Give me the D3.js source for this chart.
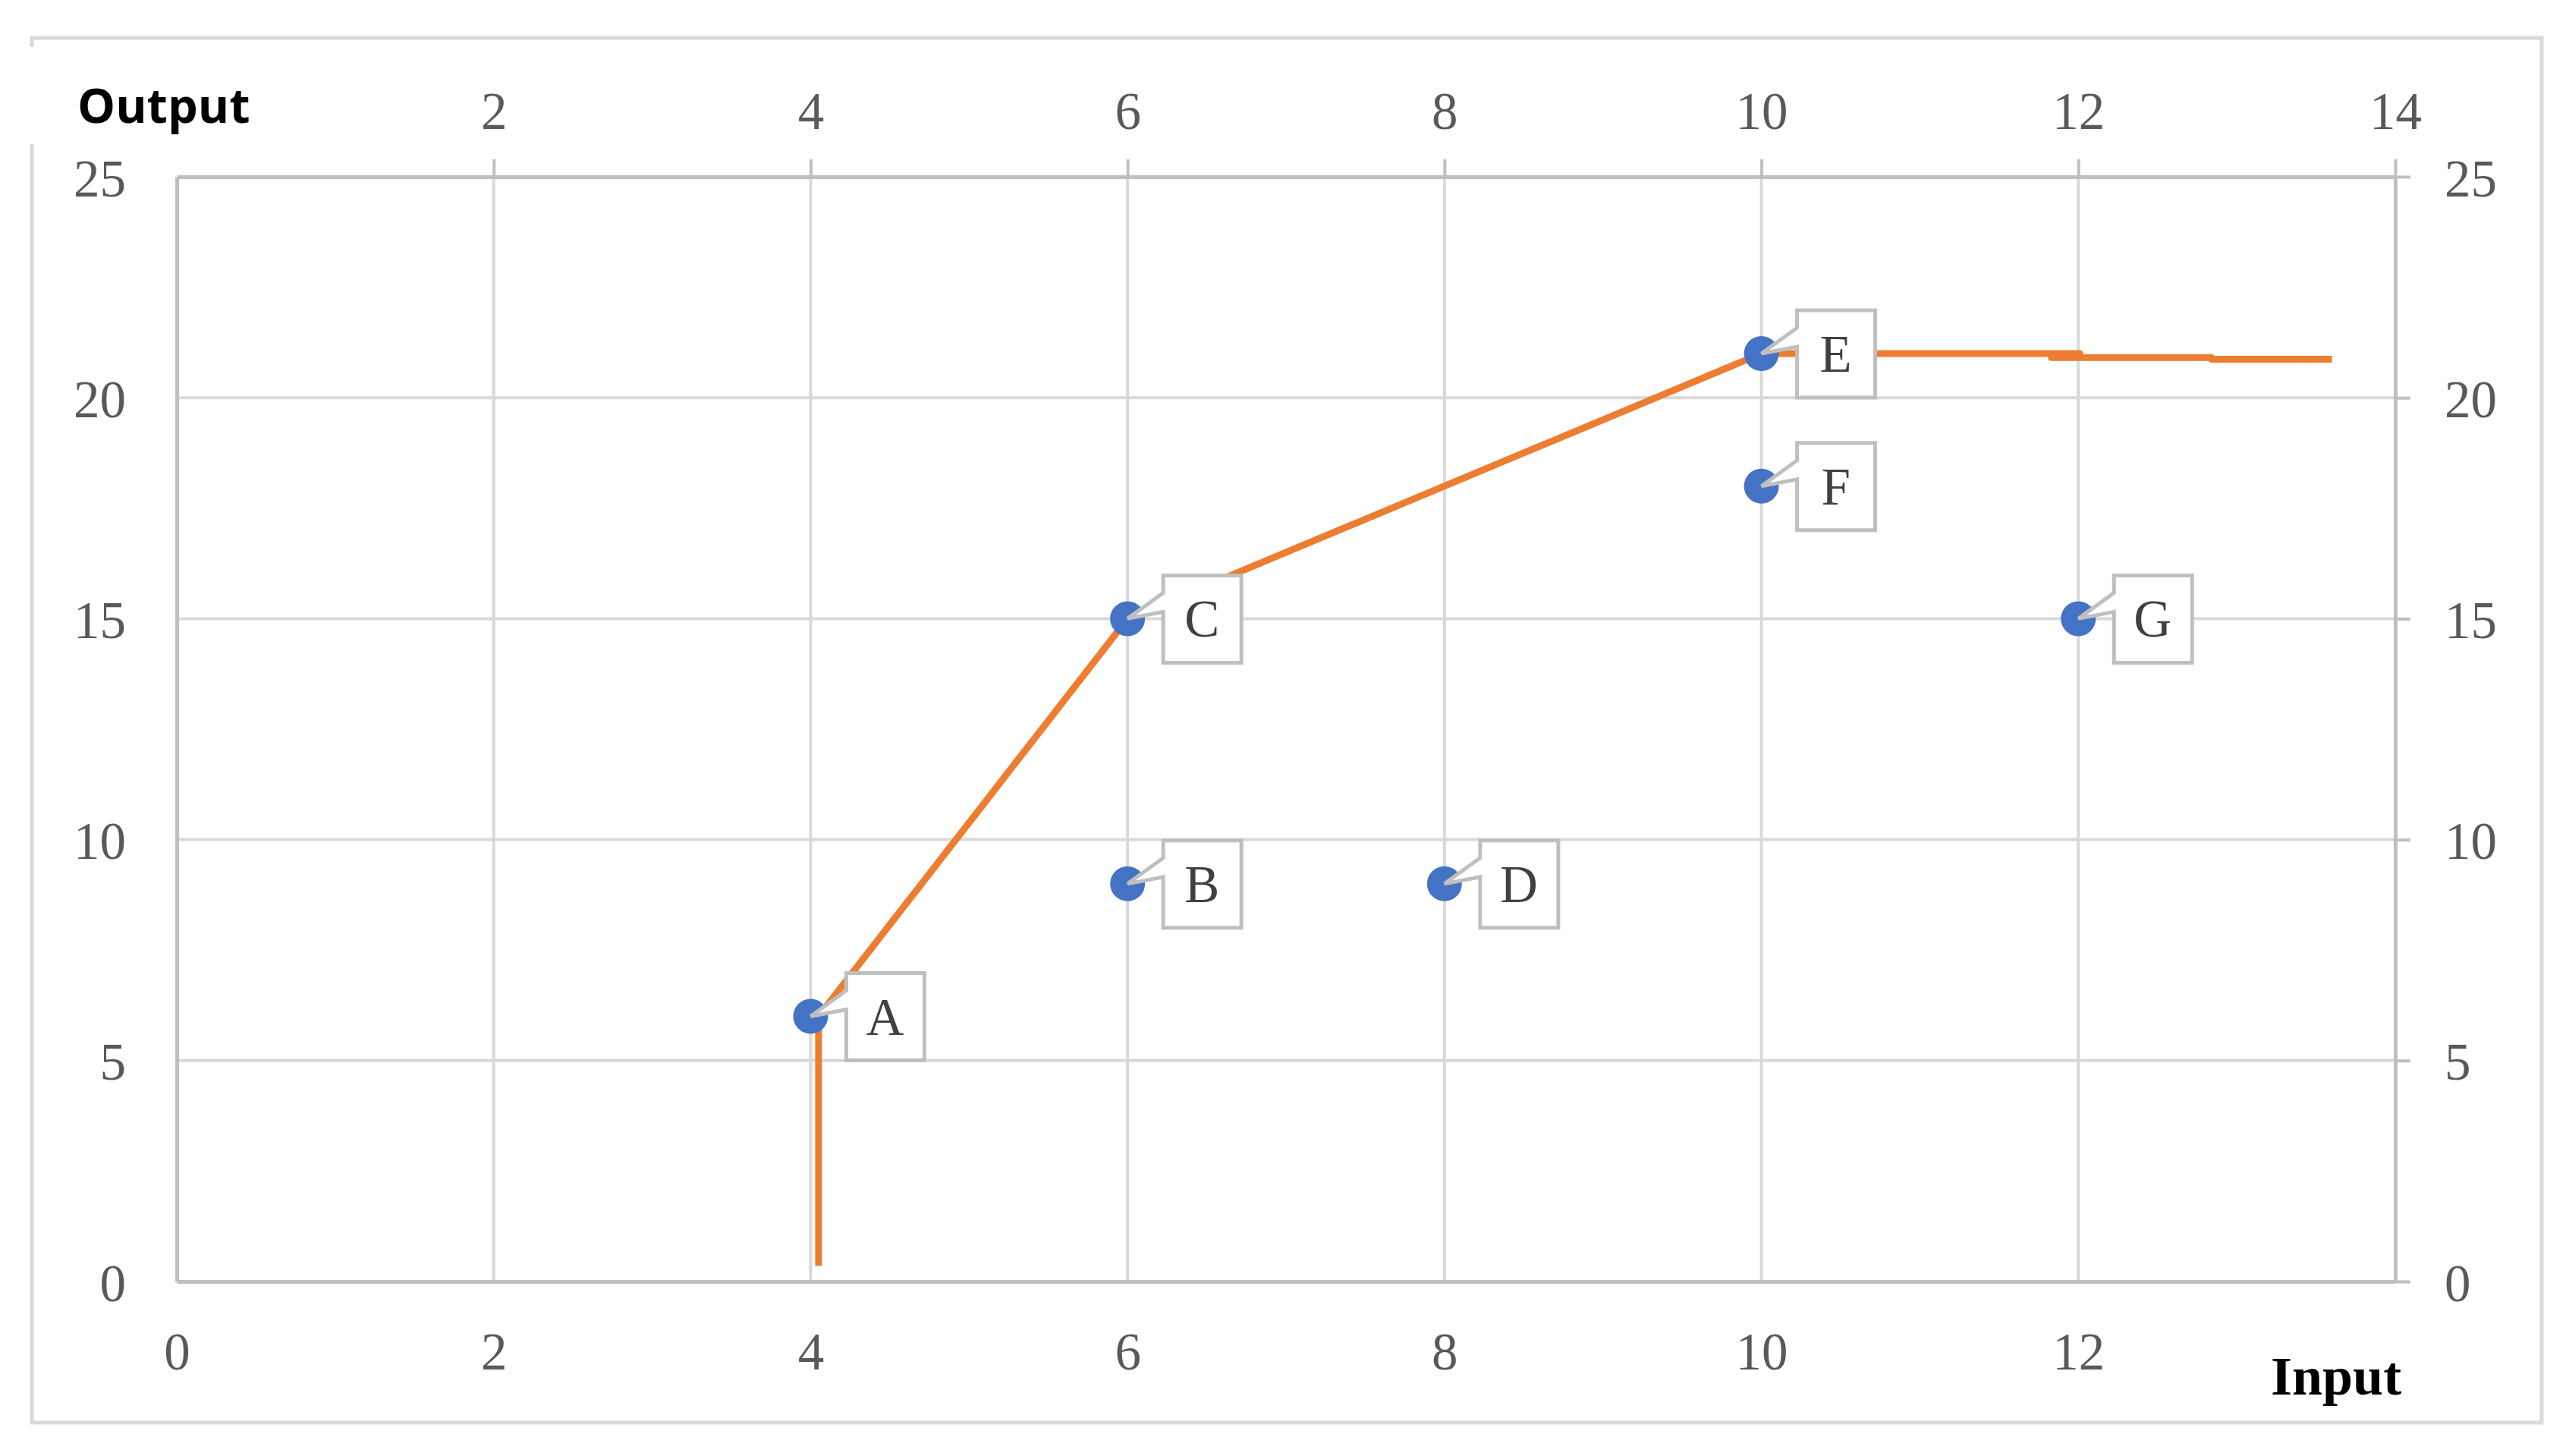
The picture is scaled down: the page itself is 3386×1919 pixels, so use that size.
<!DOCTYPE html>
<html>
<head>
<meta charset="utf-8">
<script src="https://cdn.jsdelivr.net/npm/d3@7"></script>
<style>
    body { margin: 0; background: #fff; }
    svg { display: block; }
</style>
</head>
<body>
<svg width="3386" height="1919"></svg>
<script>
// Points (scatter series with data labels)
var pointNames = ['A', 'B', 'C', 'D', 'E', 'F', 'G'];
var pointX = [4, 6, 6, 8, 10, 10, 12];
var pointY = [6, 9, 15, 9, 21, 18, 15];

// Frontier line (orange series)
var lineX = [4.05, 4.05, 6, 10, 12.01, 11.83, 12.84, 12.84, 13.6];
var lineY = [0.35, 6, 15, 21, 21, 20.91, 20.91, 20.87, 20.87];

// Axis ticks
var xTicksBottom = [0, 2, 4, 6, 8, 10, 12];
var xTicksTop = [2, 4, 6, 8, 10, 12, 14];
var yTicks = [0, 5, 10, 15, 20, 25];

var svg = d3.select('svg');

var plot = {l: 233, r: 3157, t: 233, b: 1689};

var xScale = d3.scaleLinear().domain([0, 14]).range([plot.l, plot.r]);
var yScale = d3.scaleLinear().domain([0, 25]).range([plot.b, plot.t]);

var tickFont = 'Liberation Serif, Times New Roman, serif';

// outer chart border
svg.append('rect')
    .attr('x', 42).attr('y', 50)
    .attr('width', 3308).attr('height', 1825)
    .attr('fill', '#fff')
    .attr('stroke', '#D9D9D9')
    .attr('stroke-width', 5);

// white patch behind the Output title (breaks the left border like the original)
svg.append('rect')
    .attr('x', 30).attr('y', 62)
    .attr('width', 320).attr('height', 128)
    .attr('fill', '#fff');

// gridlines
var gridG = svg.append('g');
gridG.selectAll('.vgrid')
    .data(xTicksTop.filter(function(d) { return d > 0 && d < 14; }))
    .enter().append('line')
    .attr('x1', function(d) { return xScale(d); })
    .attr('x2', function(d) { return xScale(d); })
    .attr('y1', plot.t).attr('y2', plot.b)
    .attr('stroke', '#D9D9D9').attr('stroke-width', 4);
gridG.selectAll('.hgrid')
    .data(yTicks.filter(function(d) { return d > 0 && d < 25; }))
    .enter().append('line')
    .attr('x1', plot.l).attr('x2', plot.r)
    .attr('y1', function(d) { return yScale(d); })
    .attr('y2', function(d) { return yScale(d); })
    .attr('stroke', '#D9D9D9').attr('stroke-width', 4);

// axes
function styleAxis(g) {
    g.select('.domain').attr('stroke', '#BFBFBF').attr('stroke-width', 5);
    g.selectAll('.tick line').attr('stroke', '#BFBFBF').attr('stroke-width', 4);
    g.selectAll('.tick text')
        .attr('font-family', tickFont)
        .attr('font-size', 69)
        .attr('fill', '#595959');
}

var bottomAxisG = svg.append('g')
    .attr('transform', 'translate(0,' + plot.b + ')')
    .call(d3.axisBottom(xScale).tickValues(xTicksBottom).tickSize(0).tickSizeOuter(0))
    .call(styleAxis);
bottomAxisG.selectAll('.tick text').attr('y', 116).attr('dy', 0);

var topAxisG = svg.append('g')
    .attr('transform', 'translate(0,' + plot.t + ')')
    .call(d3.axisTop(xScale).tickValues(xTicksTop).tickSize(23).tickSizeOuter(0))
    .call(styleAxis);
topAxisG.selectAll('.tick text').attr('y', -63).attr('dy', 0);

var leftAxisG = svg.append('g')
    .attr('transform', 'translate(' + plot.l + ',0)')
    .call(d3.axisLeft(yScale).tickValues(yTicks).tickSize(0).tickSizeOuter(0))
    .call(styleAxis);
leftAxisG.selectAll('.tick text').attr('x', -67).attr('dy', 0).attr('y', 25);

var rightAxisG = svg.append('g')
    .attr('transform', 'translate(' + plot.r + ',0)')
    .call(d3.axisRight(yScale).tickValues(yTicks).tickSize(20).tickSizeOuter(0))
    .call(styleAxis);
rightAxisG.selectAll('.tick text').attr('x', 65).attr('dy', 0).attr('y', 25);

// orange line
var lineData = lineX.map(function(d, i) { return [d, lineY[i]]; });
svg.append('path')
    .datum(lineData)
    .attr('fill', 'none')
    .attr('stroke', '#ED7D31')
    .attr('stroke-width', 9)
    .attr('stroke-linejoin', 'round')
    .attr('d', d3.line()
        .x(function(d) { return xScale(d[0]); })
        .y(function(d) { return yScale(d[1]); }));

// points
var points = pointNames.map(function(n, i) {
    return {name: n, x: pointX[i], y: pointY[i]};
});

svg.selectAll('.dot')
    .data(points)
    .enter().append('circle')
    .attr('class', 'dot')
    .attr('cx', function(d) { return xScale(d.x); })
    .attr('cy', function(d) { return yScale(d.y); })
    .attr('r', 23)
    .attr('fill', '#4472C4');

// callout labels
var callouts = svg.selectAll('.callout')
    .data(points)
    .enter().append('g')
    .attr('class', 'callout');

callouts.append('path')
    .attr('fill', '#fff')
    .attr('stroke', '#BFBFBF')
    .attr('stroke-width', 5)
    .attr('stroke-linejoin', 'miter')
    .attr('d', function(d) {
        var px = xScale(d.x), py = yScale(d.y);
        var L = px + 47, R = px + 150, T = py - 57, B = py + 58;
        return 'M' + L + ',' + T + 'H' + R + 'V' + B + 'H' + L +
            'V' + (py - 9) + 'L' + px + ',' + py + 'L' + L + ',' + (py - 34) + 'Z';
    });

callouts.append('text')
    .attr('x', function(d) { return xScale(d.x) + 98; })
    .attr('y', function(d) { return yScale(d.y) + 24; })
    .attr('text-anchor', 'middle')
    .attr('font-family', tickFont)
    .attr('font-size', 69)
    .attr('fill', '#404040')
    .text(function(d) { return d.name; });

// axis titles
svg.append('text')
    .attr('x', 102).attr('y', 162)
    .attr('font-family', 'Open Sans, sans-serif')
    .attr('font-weight', 700)
    .attr('font-size', 63)
    .attr('fill', '#000')
    .text('Output');

svg.append('text')
    .attr('x', 2993).attr('y', 1838)
    .attr('font-family', tickFont)
    .attr('font-weight', 700)
    .attr('font-size', 72)
    .attr('fill', '#000')
    .text('Input');
</script>
</body>
</html>
